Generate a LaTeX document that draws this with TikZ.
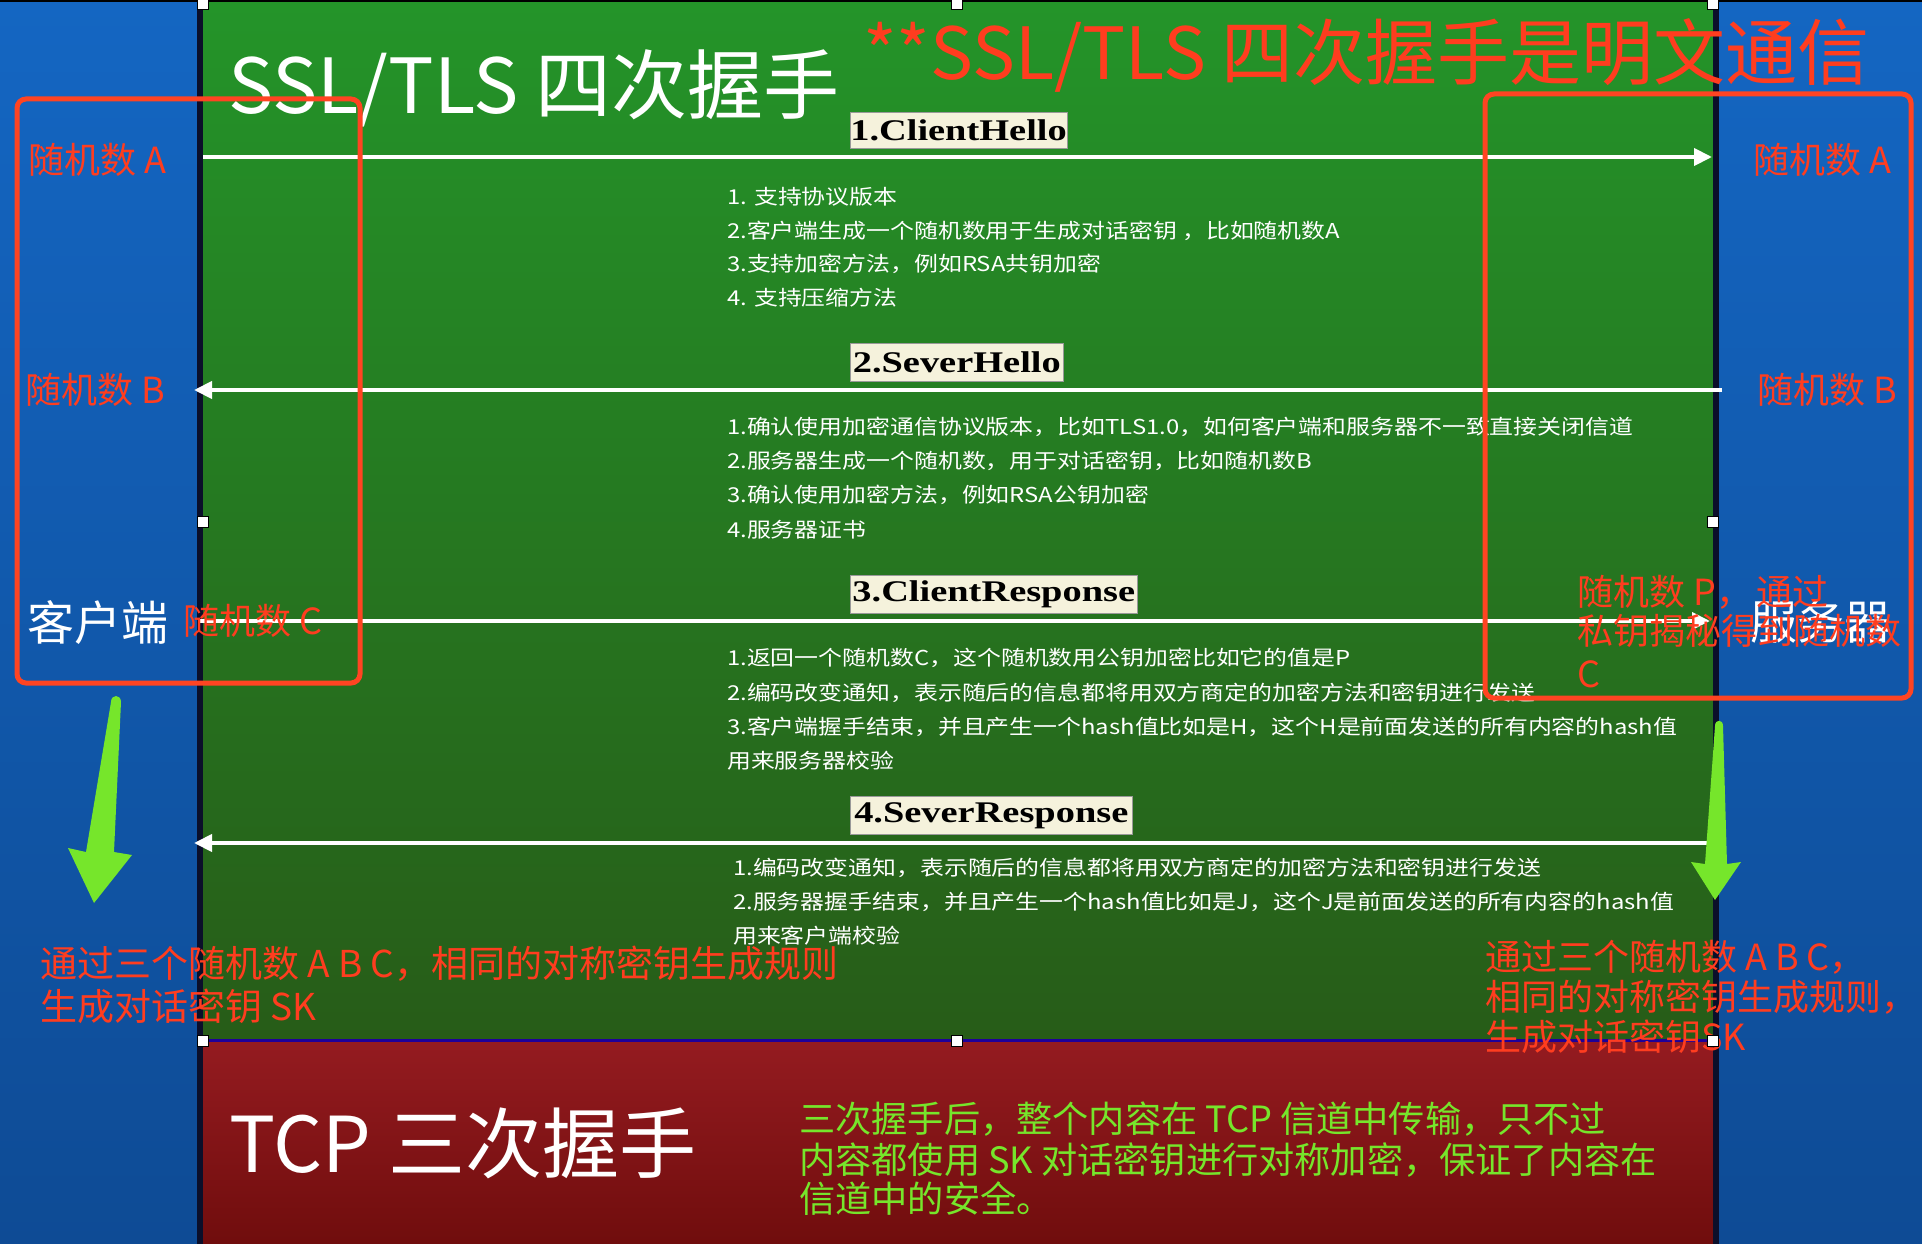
\documentclass[tikz,border=0pt]{standalone}
\usepackage{fontspec}
\setmainfont{Noto Sans CJK SC}
\newfontfamily\descfont[FakeStretch=1.165]{Noto Sans CJK SC}
\newfontfamily\labfont[FakeStretch=1.28]{Liberation Serif}
\usetikzlibrary{arrows.meta}
\definecolor{redtxt}{HTML}{FF3D1F}
\definecolor{boxred}{HTML}{FF4422}
\definecolor{cream}{HTML}{F5F2DC}
\definecolor{arrowgreen}{HTML}{76E62B}
\definecolor{blueT}{HTML}{1466C2}
\definecolor{blueB}{HTML}{0E4B95}
\definecolor{greenT}{HTML}{249429}
\definecolor{greenB}{HTML}{275C18}
\definecolor{redT}{HTML}{941B20}
\definecolor{redB}{HTML}{700D0D}
\definecolor{sep}{HTML}{0B0F2A}
\begin{document}
\begin{tikzpicture}[x=1pt,y=-1pt,
  txt/.style={inner sep=0pt, anchor=west},
  desc/.style={txt, text=white, font=\descfont\fontsize{20.5}{24}\selectfont},
  redlbl/.style={txt, text=redtxt, font=\fontsize{36}{40}\selectfont},
  whitelbl/.style={txt, text=white, font=\fontsize{47}{50}\selectfont},
  greentxt/.style={txt, text=arrowgreen, font=\fontsize{36.2}{40}\selectfont},
  lab/.style={anchor=north west, fill=cream, draw=black!40, line width=0.6pt, inner sep=0pt, text=black, font=\labfont\bfseries\fontsize{30}{32}\selectfont},
  msg/.style={draw=white, line width=4pt, -{Triangle[length=18pt,width=17pt]}},
  handle/.style={fill=white, draw=black, line width=1pt, minimum size=11pt, inner sep=0pt},
  redbox/.style={draw=boxred, line width=5pt, rounded corners=9pt},
  fatarrow/.style={fill=arrowgreen}
]
\useasboundingbox (0,0) rectangle (1922,1244);
% background panels
\fill[black] (0,0) rectangle (1922,1244);
\shade[top color=blueT, bottom color=blueB] (0,3) rectangle (197,1244);
\shade[top color=blueT, bottom color=blueB] (1719,3) rectangle (1922,1244);
\shade[top color=greenT, bottom color=greenB] (203,3) rectangle (1713,1039);
\shade[top color=redT, bottom color=redB] (203,1042) rectangle (1713,1244);
\fill[sep] (197,3) rectangle (203,1244);
\fill[sep] (1713,3) rectangle (1719,1244);
\fill[black!70!red!40!blue] (203,1039) rectangle (1713,1042);

% titles
\node[txt, text=white, font=\fontsize{76}{80}\selectfont] (title) at (228,88) {SSL/TLS 四次握手};
\node[txt, text=redtxt, font=\fontsize{72}{76}\selectfont] (warn) at (863,55) {**SSL/TLS 四次握手是明文通信};
\node[txt, text=white, font=\fontsize{77}{80}\selectfont] (tcp) at (229,1143) {TCP 三次握手};

% lane end points
\coordinate (c1) at (203,157);  \coordinate (s1) at (1712,157);
\coordinate (s2) at (1722,390); \coordinate (c2) at (194,390);
\coordinate (c3) at (199,621);  \coordinate (s3) at (1710,621);
\coordinate (s4) at (1707,843); \coordinate (c4) at (194,843);

% messages
\draw[msg] (c1) -- (s1);
\draw[msg] (s2) -- (c2);
\draw[msg] (c3) -- (s3);
\draw[msg] (s4) -- (c4);

% step labels
\node[lab, minimum width=214pt, minimum height=36pt] (l1) at (850,112) {1.ClientHello};
\node[lab, minimum width=213pt, minimum height=38pt] (l2) at (850,343) {2.SeverHello};
\node[lab, minimum width=287pt, minimum height=38pt] (l3) at (850,575) {3.ClientResponse};
\node[lab, minimum width=282pt, minimum height=38pt] (l4) at (850,796) {4.SeverResponse};

% descriptions
\node[desc] (d1a) at (727,197) {1. 支持协议版本};
\node[desc] (d1b) at (727,231) {2.客户端生成一个随机数用于生成对话密钥 ，比如随机数A};
\node[desc] (d1c) at (727,264) {3.支持加密方法，例如RSA共钥加密};
\node[desc] (d1d) at (727,298) {4. 支持压缩方法};

\node[desc] (d2a) at (727,427) {1.确认使用加密通信协议版本，比如TLS1.0，如何客户端和服务器不一致直接关闭信道};
\node[desc] (d2b) at (727,461) {2.服务器生成一个随机数，用于对话密钥，比如随机数B};
\node[desc] (d2c) at (727,495) {3.确认使用加密方法，例如RSA公钥加密};
\node[desc] (d2d) at (727,530) {4.服务器证书};

\node[desc] (d3a) at (727,658) {1.返回一个随机数C，这个随机数用公钥加密比如它的值是P};
\node[desc] (d3b) at (727,693) {2.编码改变通知，表示随后的信息都将用双方商定的加密方法和密钥进行发送};
\node[desc] (d3c) at (727,727) {3.客户端握手结束，并且产生一个hash值比如是H，这个H是前面发送的所有内容的hash值};
\node[desc] (d3d) at (727,761) {用来服务器校验};

\node[desc] (d4a) at (733,868) {1.编码改变通知，表示随后的信息都将用双方商定的加密方法和密钥进行发送};
\node[desc] (d4b) at (733,902) {2.服务器握手结束，并且产生一个hash值比如是J，这个J是前面发送的所有内容的hash值};
\node[desc] (d4c) at (733,936) {用来客户端校验};

% lane labels
\node[whitelbl] (client) at (27,623) {客户端};
\node[whitelbl] (server) at (1750,622) {服务器};
\node[redlbl] (rAl) at (28,160) {随机数 A};
\node[redlbl] (rAr) at (1753,160) {随机数 A};
\node[redlbl] (rBl) at (25,390) {随机数 B};
\node[redlbl] (rBr) at (1757,390) {随机数 B};
\node[redlbl] (rC) at (183,621) {随机数 C};
\node[redlbl] (rP1) at (1577,592) {随机数 P，\hspace{4pt}通过};
\node[redlbl] (rP2) at (1577,631) {私钥揭秘得到随机数};
\node[redlbl] (rP3) at (1577,674) {C};

% red highlight boxes
\draw[redbox] (17,99) rectangle (360,683);
\draw[redbox] (1485,94) rectangle (1911,698);

% green arrows
\fill[fatarrow] (111,702) -- (86,852) -- (68,848) -- (94,903) -- (132,855) -- (114,852) -- (121,702)
  .. controls (121,694) and (111,694) .. (111,702) -- cycle;
\fill[fatarrow] (1715,726) -- (1705,864) -- (1691,862) -- (1715,900) -- (1741,862) -- (1727,864) -- (1723,726)
  .. controls (1723,719) and (1715,719) .. (1715,726) -- cycle;

% key derivation notes
\node[redlbl, font=\fontsize{37}{40}\selectfont] (kl1) at (40,964) {通过三个随机数 A B C，相同的对称密钥生成规则};
\node[redlbl, font=\fontsize{37}{40}\selectfont] (kl2) at (40,1006) {生成对话密钥 SK};
\node[redlbl] (kr1) at (1485,957) {通过三个随机数 A B C，};
\node[redlbl] (kr2) at (1485,997) {相同的对称密钥生成规则，};
\node[redlbl] (kr3) at (1485,1037) {生成对话密钥SK};

% TCP note
\node[greentxt] (g1) at (799,1119) {三次握手后，整个内容在 TCP 信道中传输，只不过};
\node[greentxt] (g2) at (799,1160) {内容都使用 SK 对话密钥进行对称加密，保证了内容在};
\node[greentxt] (g3) at (799,1199) {信道中的安全。};

% selection handles
\node[handle] (h1) at (203,4) {};
\node[handle] (h2) at (957,4) {};
\node[handle] (h3) at (1713,4) {};
\node[handle] (h4) at (203,522) {};
\node[handle] (h5) at (1713,522) {};
\node[handle] (h6) at (203,1041) {};
\node[handle] (h7) at (957,1041) {};
\node[handle] (h8) at (1713,1041) {};
\end{tikzpicture}
\end{document}
